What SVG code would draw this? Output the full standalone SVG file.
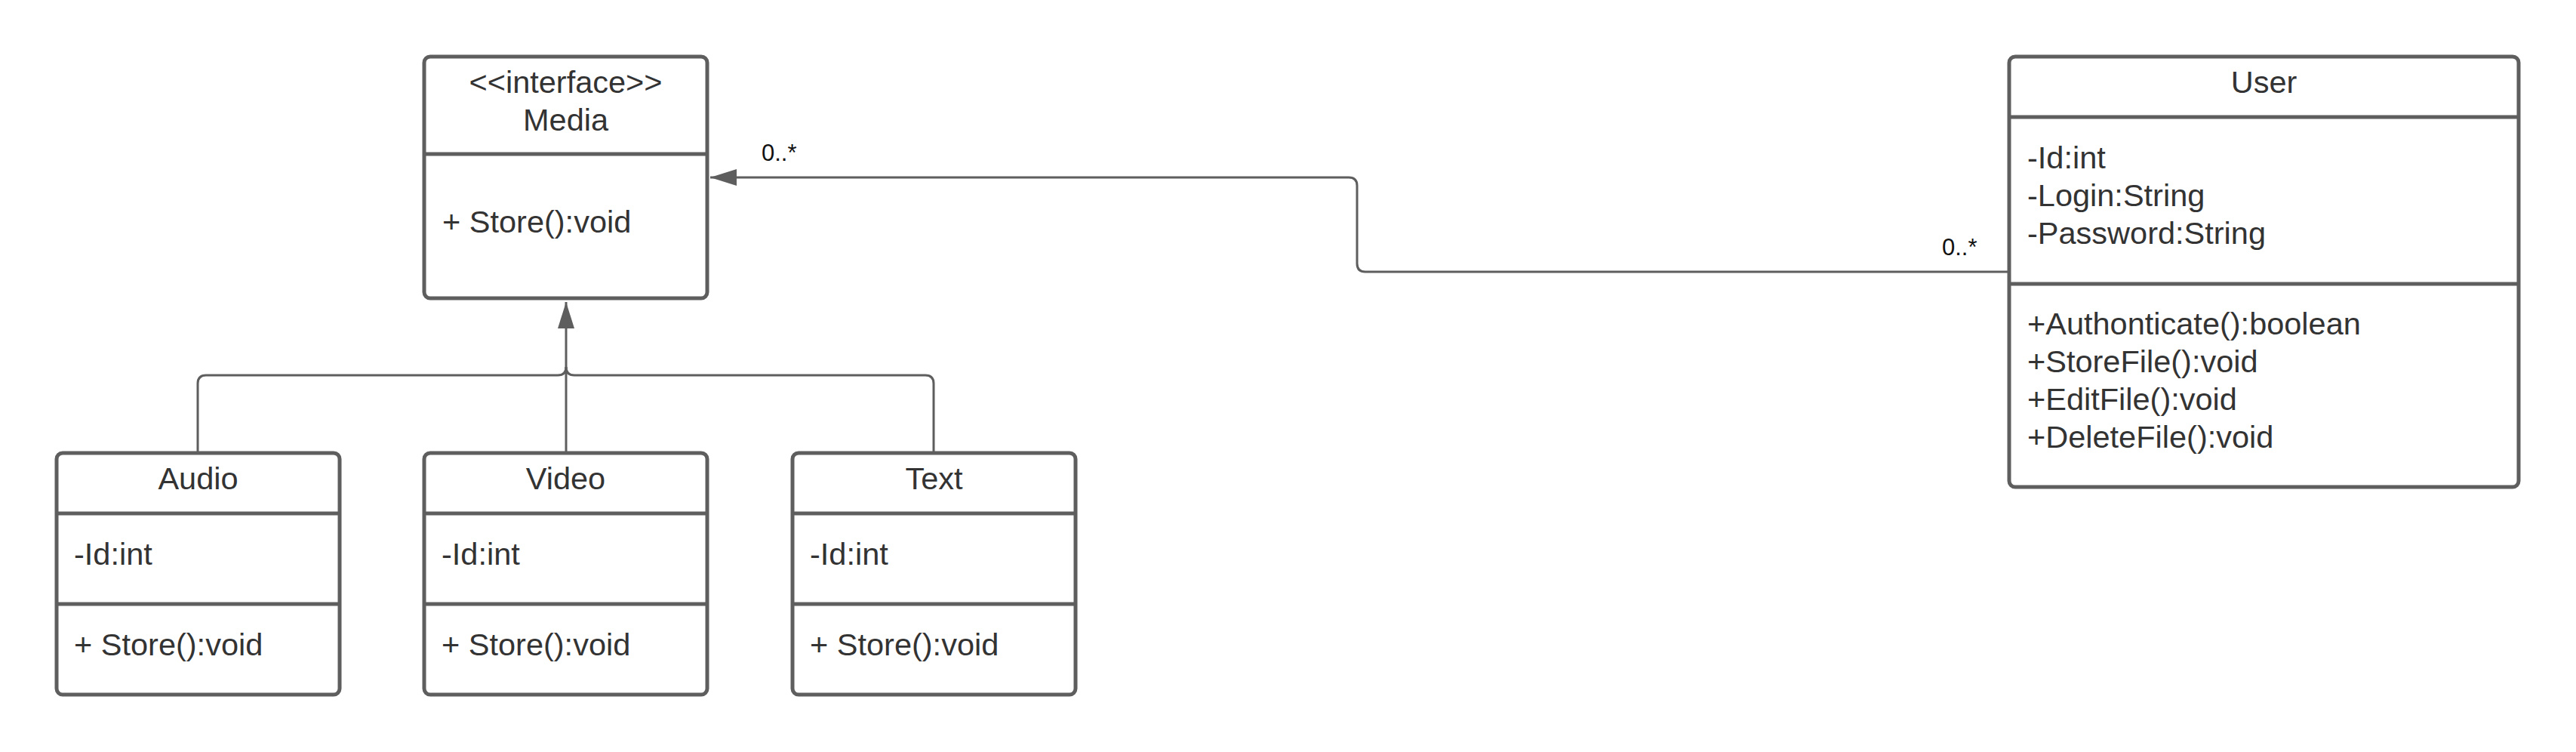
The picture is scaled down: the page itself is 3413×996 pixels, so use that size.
<svg xmlns="http://www.w3.org/2000/svg" width="3413" height="996" viewBox="0 0 3413 996">
<style>
.box{fill:#ffffff;stroke:#5e5e5e;stroke-width:5}
.div{stroke:#5e5e5e;stroke-width:5}
.t{font-family:"Liberation Sans",Arial,sans-serif;font-size:41.5px;fill:#333333}
.c{text-anchor:middle}
.conn{fill:none;stroke:#5e5e5e;stroke-width:3}
.lbl{font-family:"Liberation Sans",Arial,sans-serif;font-size:31px;fill:#111111}
</style>
<defs>
<marker id="tri" markerWidth="36" markerHeight="24" refX="35" refY="11" orient="auto" markerUnits="userSpaceOnUse">
<path d="M0,0 L35,11 L0,22 Z" fill="#5e5e5e"/>
</marker>
</defs>
<rect width="3413" height="996" fill="#ffffff"/>
<g id="connectors">
<path class="conn" d="M750,600 L750,400" marker-end="url(#tri)"/>
<path class="conn" d="M262,600 L262,508 Q262,497 273,497 L739,497 Q750,497 750,486"/>
<path class="conn" d="M1237,600 L1237,508 Q1237,497 1226,497 L761,497 Q750,497 750,486"/>
<path class="conn" d="M2662,360 L1809,360 Q1798,360 1798,349 L1798,246 Q1798,235 1787,235 L941,235" marker-end="url(#tri)"/>
<text class="lbl" x="1009" y="213">0..*</text>
<text class="lbl" x="2573" y="338">0..*</text>
</g>
<g id="media">
<rect class="box" x="562" y="75" width="375" height="320" rx="8"/>
<line class="div" x1="562" y1="204" x2="937" y2="204"/>
<text class="t c" x="749.5" y="123">&lt;&lt;interface&gt;&gt;</text>
<text class="t c" x="749.5" y="173">Media</text>
<text class="t" x="586" y="308">+ Store():void</text>
</g>
<g id="audio">
<rect class="box" x="75" y="600" width="375" height="320" rx="8"/>
<line class="div" x1="75" y1="680" x2="450" y2="680"/>
<line class="div" x1="75" y1="800" x2="450" y2="800"/>
<text class="t c" x="262.5" y="648">Audio</text>
<text class="t" x="98" y="748">-Id:int</text>
<text class="t" x="98" y="868">+ Store():void</text>
</g>
<g id="video">
<rect class="box" x="562" y="600" width="375" height="320" rx="8"/>
<line class="div" x1="562" y1="680" x2="937" y2="680"/>
<line class="div" x1="562" y1="800" x2="937" y2="800"/>
<text class="t c" x="749.5" y="648">Video</text>
<text class="t" x="585" y="748">-Id:int</text>
<text class="t" x="585" y="868">+ Store():void</text>
</g>
<g id="text">
<rect class="box" x="1050" y="600" width="375" height="320" rx="8"/>
<line class="div" x1="1050" y1="680" x2="1425" y2="680"/>
<line class="div" x1="1050" y1="800" x2="1425" y2="800"/>
<text class="t c" x="1237.5" y="648">Text</text>
<text class="t" x="1073" y="748">-Id:int</text>
<text class="t" x="1073" y="868">+ Store():void</text>
</g>
<g id="user">
<rect class="box" x="2662" y="75" width="675" height="570" rx="8"/>
<line class="div" x1="2662" y1="155" x2="3337" y2="155"/>
<line class="div" x1="2662" y1="376" x2="3337" y2="376"/>
<text class="t c" x="2999.5" y="123">User</text>
<text class="t" x="2686" y="223">-Id:int</text>
<text class="t" x="2686" y="273">-Login:String</text>
<text class="t" x="2686" y="323">-Password:String</text>
<text class="t" x="2686" y="443">+Authonticate():boolean</text>
<text class="t" x="2686" y="493">+StoreFile():void</text>
<text class="t" x="2686" y="543">+EditFile():void</text>
<text class="t" x="2686" y="593">+DeleteFile():void</text>
</g>
</svg>
